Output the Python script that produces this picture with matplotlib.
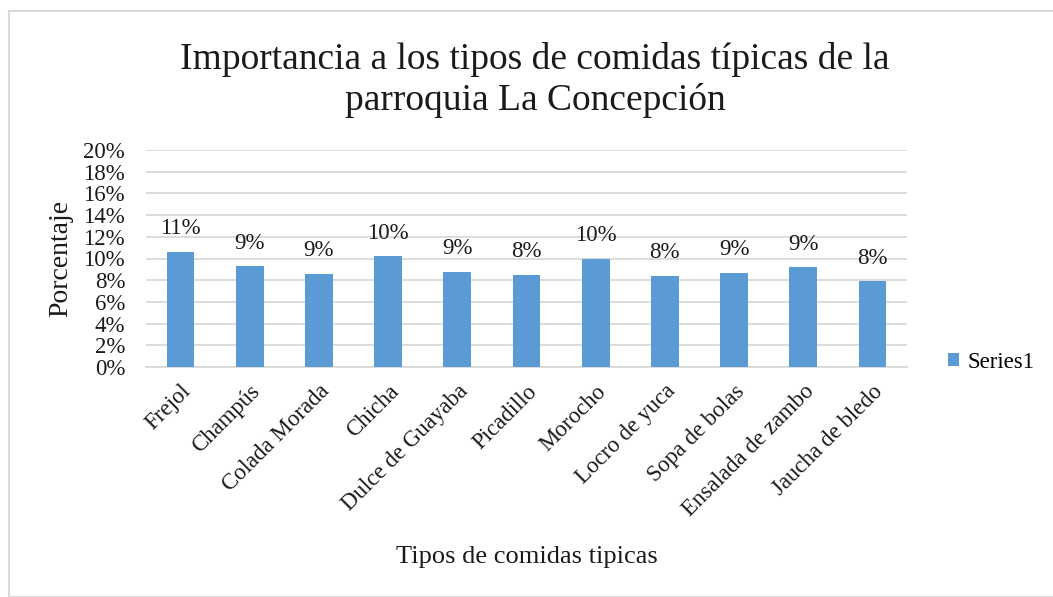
import matplotlib.pyplot as plt
from matplotlib.patches import Rectangle
from matplotlib.ticker import PercentFormatter

plt.rcParams['font.family'] = ['Liberation Serif', 'DejaVu Serif']

comidas = ["Frejol", "Champús", "Colada Morada", "Chicha", "Dulce de Guayaba",
           "Picadillo", "Morocho", "Locro de yuca", "Sopa de bolas",
           "Ensalada de zambo", "Jaucha de bledo"]
porcentaje = [10.6, 9.3, 8.6, 10.2, 8.8, 8.5, 10.0, 8.4, 8.7, 9.2, 7.9]
etiquetas = ["11%", "9%", "9%", "10%", "9%", "8%", "10%", "8%", "9%", "9%", "8%"]

fig = plt.figure(figsize=(10.53, 5.97), dpi=100)
ax = fig.add_axes([146/1053, 1-367/597, (907-146)/1053, (367-150)/597])

x = range(len(comidas))
bars = ax.bar(x, porcentaje, width=0.4, color="#5b9bd5", label="Series1", zorder=3)
for b, t in zip(bars, etiquetas):
    ax.annotate(t, (b.get_x() + b.get_width()/2, b.get_height()),
                xytext=(0, 9), textcoords="offset points",
                ha="center", va="bottom", fontsize=16.5, color="#1a1a1a")

ax.set_ylim(0, 20)
ax.set_xlim(-0.5, len(comidas) - 0.5)
ax.set_yticks(range(0, 21, 2))
ax.yaxis.set_major_formatter(PercentFormatter(decimals=0))
ax.grid(axis="y", color="#d9d9d9", linewidth=1.3, zorder=0)
for s in ["top", "right", "left"]:
    ax.spines[s].set_visible(False)
ax.spines["bottom"].set_color("#d9d9d9")
ax.spines["bottom"].set_linewidth(1.3)
ax.tick_params(axis="both", length=0, labelsize=16.5, labelcolor="#1a1a1a")
ax.tick_params(axis="y", pad=15)
ax.set_xticks(list(x))
ax.set_xticklabels(comidas, rotation=45, ha="right", rotation_mode="anchor")
ax.tick_params(axis="x", pad=10)

ax.set_ylabel("Porcentaje", fontsize=20, color="#1a1a1a", labelpad=7)
fig.text(527/1053, 1-557/597, "Tipos de comidas tipicas", ha="center", va="center",
         fontsize=19, color="#1a1a1a")
fig.text(535/1053, 1-80/597, "Importancia a los tipos de comidas típicas de la\nparroquia La Concepción",
         ha="center", va="center", fontsize=27, color="#1a1a1a", linespacing=1.25)

fig.legend(loc="center left", bbox_to_anchor=(948/1053, 1-362/597), frameon=False,
           fontsize=16.5, handlelength=0.5, handleheight=0.5, handletextpad=0.35,
           borderaxespad=0, borderpad=0)

fig.patches.append(Rectangle((9/1053, 0), 1.2, 1 - 11/597, transform=fig.transFigure,
                             fill=False, edgecolor="#d9d9d9", linewidth=1.5))

fig.savefig("out.png", dpi=100)
